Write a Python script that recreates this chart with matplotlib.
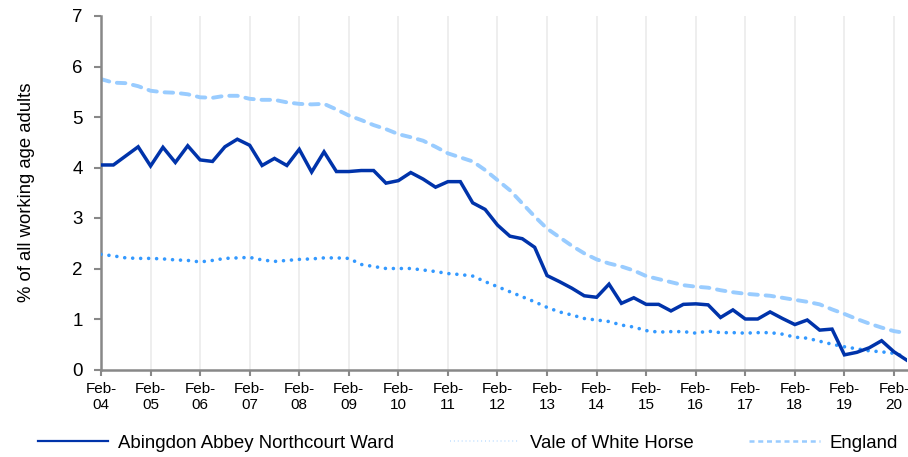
import matplotlib
matplotlib.use("Agg")
import matplotlib.pyplot as plt
from matplotlib.lines import Line2D
import numpy as np

plt.rcParams["font.family"] = ["Liberation Sans", "DejaVu Sans"]

# quarterly values, Feb-04 .. May-20
years = ["04", "05", "06", "07", "08", "09", "10", "11", "12",
         "13", "14", "15", "16", "17", "18", "19", "20"]

abingdon = [4.05, 4.05, 4.23, 4.41, 4.03, 4.40, 4.10, 4.43, 4.15, 4.12,
            4.41, 4.56, 4.44, 4.04, 4.18, 4.04, 4.36, 3.91, 4.31, 3.92,
            3.92, 3.94, 3.94, 3.69, 3.74, 3.90, 3.77, 3.61, 3.72, 3.72,
            3.30, 3.17, 2.86, 2.64, 2.59, 2.42, 1.86, 1.74, 1.61, 1.46,
            1.43, 1.69, 1.31, 1.42, 1.29, 1.29, 1.16, 1.29, 1.30, 1.28,
            1.03, 1.18, 1.00, 1.00, 1.14, 1.01, 0.89, 0.98, 0.78, 0.80,
            0.29, 0.34, 0.43, 0.57, 0.35, 0.19]

vale = [2.28, 2.25, 2.21, 2.20, 2.20, 2.19, 2.17, 2.16, 2.13, 2.16,
        2.20, 2.21, 2.22, 2.17, 2.14, 2.16, 2.18, 2.19, 2.21, 2.21,
        2.20, 2.08, 2.04, 2.00, 2.00, 2.00, 1.97, 1.94, 1.90, 1.88,
        1.85, 1.74, 1.64, 1.54, 1.44, 1.34, 1.23, 1.14, 1.08, 1.01,
        0.98, 0.95, 0.88, 0.84, 0.77, 0.74, 0.75, 0.75, 0.72, 0.76,
        0.73, 0.73, 0.72, 0.73, 0.73, 0.70, 0.64, 0.62, 0.56, 0.50,
        0.45, 0.41, 0.37, 0.35, 0.32, 0.25]

england = [5.75, 5.68, 5.67, 5.61, 5.52, 5.49, 5.48, 5.45, 5.39, 5.38,
           5.42, 5.42, 5.36, 5.34, 5.34, 5.29, 5.26, 5.25, 5.26, 5.15,
           5.03, 4.94, 4.84, 4.76, 4.66, 4.60, 4.53, 4.41, 4.28, 4.20,
           4.12, 3.95, 3.75, 3.55, 3.29, 3.03, 2.79, 2.62, 2.45, 2.30,
           2.18, 2.10, 2.04, 1.96, 1.85, 1.79, 1.73, 1.67, 1.64, 1.62,
           1.57, 1.53, 1.50, 1.48, 1.46, 1.42, 1.38, 1.34, 1.29, 1.19,
           1.10, 1.00, 0.91, 0.83, 0.76, 0.72]

x = np.arange(len(abingdon))

fig = plt.figure(figsize=(9.08, 4.57), dpi=100)
ax = fig.add_axes([101 / 908, 1 - 369.5 / 457, 806 / 908, 353.5 / 457])

# vertical gridlines at each year
for k in range(1, len(years)):
    ax.axvline(4 * k, color="#ebebeb", lw=1.2, zorder=0)

ax.plot(x, england, color="#99ccff", lw=2.8, dashes=(2.2, 2.0),
        dash_capstyle="round", zorder=2)
ax.plot(x, vale, color="#3399ff", lw=2.6, dashes=(0.01, 2.2),
        dash_capstyle="round", zorder=3)
ax.plot(x, abingdon, color="#0033aa", lw=2.5, solid_joinstyle="miter", zorder=4)

ax.set_xlim(0, len(abingdon) - 1 + 0.05)
ax.set_ylim(0, 7)
ax.set_yticks(range(0, 8))
ax.set_xticks([4 * k for k in range(len(years))])
ax.set_xticklabels([f"Feb-\n{y}" for y in years], fontsize=11, linespacing=1.2)
ax.tick_params(axis="y", labelsize=13.5, length=5, width=1.5, color="#888888", pad=8)
ax.tick_params(axis="x", length=4, width=1.5, color="#888888", pad=5)

for side in ["top", "right"]:
    ax.spines[side].set_visible(False)
for side in ["left", "bottom"]:
    ax.spines[side].set_color("#888888")
    ax.spines[side].set_linewidth(1.8)

ax.set_ylabel("% of all working age adults", fontsize=13.3, labelpad=27)

handles = [
    Line2D([], [], color="#0033aa", lw=1.6),
    Line2D([], [], color="#cce5ff", lw=1.4, dashes=(0.5, 1.5)),
    Line2D([], [], color="#99ccff", lw=1.8, dashes=(2.0, 1.5)),
]
labels = ["Abingdon Abbey Northcourt Ward", "Vale of White Horse", "England"]
fig.legend(handles, labels, loc="center", bbox_to_anchor=(0.515, 1 - 443 / 457),
           ncol=3, frameon=False, fontsize=13.4, handlelength=3.8,
           handletextpad=0.5, columnspacing=3.0)

fig.savefig("out.png", dpi=100)
